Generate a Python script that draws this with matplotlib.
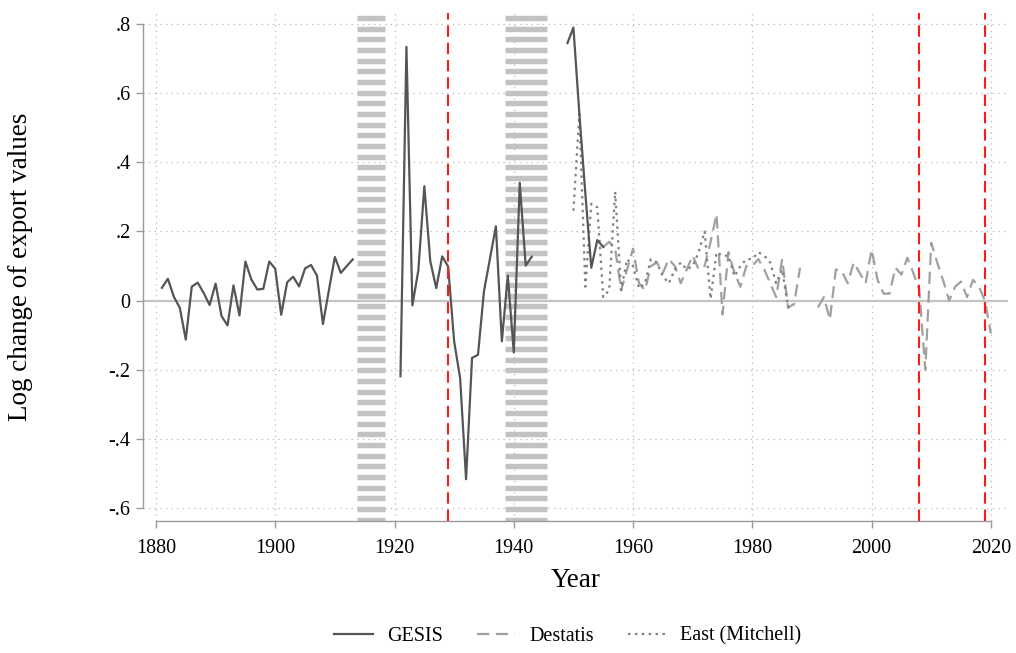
import numpy as np
import matplotlib
matplotlib.use("Agg")
import matplotlib.pyplot as plt

plt.rcParams["font.family"] = ["Liberation Serif", "DejaVu Serif"]

nan = np.nan

# GESIS series (annual log change), 1881-1955 with war gaps
gesis_start = 1881
gesis_values = [
    0.037, 0.063, 0.011, -0.021, -0.113, 0.040, 0.052, 0.022, -0.013, 0.049,   # 1881-1890
    -0.045, -0.072, 0.044, -0.043, 0.113, 0.061, 0.032, 0.034, 0.113, 0.092,   # 1891-1900
    -0.041, 0.053, 0.069, 0.041, 0.093, 0.103, 0.072, -0.068, 0.030, 0.126,    # 1901-1910
    0.080, 0.100, 0.119, nan, nan, nan, nan, nan, nan, nan,                    # 1911-1920
    -0.219, 0.734, -0.014, 0.088, 0.331, 0.114, 0.036, 0.128, 0.098, -0.118,   # 1921-1930
    -0.224, -0.517, -0.166, -0.157, 0.027, 0.121, 0.215, -0.118, 0.072, -0.150,  # 1931-1940
    0.341, 0.101, 0.127, nan, nan, nan, nan, nan, 0.745, 0.790,                # 1941-1950
    0.540, 0.310, 0.095, 0.175, 0.155,                                         # 1951-1955
]

# Destatis series, 1955-2020 (gap around reunification)
destatis_start = 1955
destatis_values = [
    0.155, 0.170, 0.150, 0.030, 0.090,                                         # 1955-1959
    0.150, 0.050, 0.030, 0.100, 0.110, 0.080, 0.120, 0.100, 0.050, 0.090,      # 1960-1969
    0.130, 0.090, 0.100, 0.170, 0.250, -0.040, 0.140, 0.080, 0.040, 0.100,     # 1970-1979
    0.100, 0.120, 0.090, 0.050, 0.010, 0.120, -0.020, -0.010, 0.095, nan,      # 1980-1989
    nan, -0.020, 0.010, -0.055, 0.090, 0.085, 0.050, 0.110, 0.080, 0.050,      # 1990-1999
    0.148, 0.060, 0.020, 0.020, 0.095, 0.075, 0.124, 0.080, 0.030, -0.200,     # 2000-2009
    0.167, 0.110, 0.058, 0.000, 0.040, 0.055, 0.010, 0.060, 0.040, 0.000,      # 2010-2019
    -0.095,                                                                    # 2020
]

# East Germany (Mitchell), 1950-1987
east_start = 1950
east_values = [
    0.260, 0.540, 0.040, 0.280, 0.270, 0.010, 0.030, 0.315, 0.030, 0.120,      # 1950-1959
    0.100, 0.035, 0.050, 0.120, 0.110, 0.070, 0.050, 0.090, 0.110, 0.090,      # 1960-1969
    0.100, 0.140, 0.200, 0.005, 0.140, 0.130, 0.130, 0.070, 0.100, 0.120,      # 1970-1979
    0.120, 0.140, 0.130, 0.110, 0.050, 0.090, -0.020, -0.015,                  # 1980-1987
]

war_periods = [(1913.75, 1918.4), (1938.6, 1945.6)]
crisis_years = [1929, 2008, 2019]

x_ticks = [1880, 1900, 1920, 1940, 1960, 1980, 2000, 2020]
y_ticks = [-0.6, -0.4, -0.2, 0.0, 0.2, 0.4, 0.6, 0.8]
y_tick_labels = ["-.6", "-.4", "-.2", "0", ".2", ".4", ".6", ".8"]


def series(start, values):
    vals = np.array(values, dtype=float)
    return np.arange(start, start + len(vals)), vals


fig = plt.figure(figsize=(10.16, 6.53), dpi=100)
ax = fig.add_axes([0.1407, 0.2021, 0.8513, 0.7779])

ax.set_xlim(1877.82, 2022.85)
ax.set_ylim(-0.638, 0.832)

# striped bands for the two world wars
stripe_y = np.arange(0.818, -0.65, -0.0309)
for x0, x1 in war_periods:
    ax.hlines(stripe_y, x0, x1, colors="#c2c2c2", linewidth=3.9, zorder=1)

# grid
for yv in y_ticks:
    ax.axhline(yv, color="#b8b8b8", linestyle=(0, (1, 3.5)), linewidth=0.9, zorder=0)
for xv in x_ticks:
    ax.axvline(xv, color="#b8b8b8", linestyle=(0, (1, 3.5)), linewidth=0.9, zorder=0)

ax.axhline(0, color="#c4c4c4", linewidth=1.6, zorder=2)

for yr in crisis_years:
    ax.axvline(yr, color="#ff1a1a", linestyle=(0, (5.5, 2.8)), linewidth=1.5, zorder=5)

gx, gy = series(gesis_start, gesis_values)
dx, dy = series(destatis_start, destatis_values)
ex, ey = series(east_start, east_values)

ax.plot(gx, gy, color="#555555", linewidth=1.6, label="GESIS", zorder=4)
ax.plot(dx, dy, color="#a0a0a0", linewidth=1.6, linestyle=(0, (5.5, 3)), label="Destatis", zorder=3)
ax.plot(ex, ey, color="#808080", linewidth=1.6, linestyle=(0, (1.1, 2.0)), label="East (Mitchell)", zorder=3)

for side in ("top", "right"):
    ax.spines[side].set_visible(False)
for side in ("left", "bottom"):
    ax.spines[side].set_color("#9a9a9a")
    ax.spines[side].set_linewidth(1.0)
ax.spines["left"].set_bounds(-0.6, 0.8)
ax.spines["bottom"].set_bounds(1880, 2020)

ax.set_xticks(x_ticks)
ax.set_xticklabels([str(x) for x in x_ticks])
ax.set_yticks(y_ticks)
ax.set_yticklabels(y_tick_labels)
ax.tick_params(axis="both", colors="#9a9a9a", labelcolor="black", length=5, width=1.0,
               labelsize=14.5)
ax.tick_params(axis="x", pad=8)
ax.tick_params(axis="y", pad=4)

ax.set_xlabel("Year", fontsize=19.5)
ax.set_ylabel("Log change of export values", fontsize=19.5)
ax.xaxis.set_label_coords(0.500, -0.093)
ax.yaxis.set_label_coords(-0.127, 0.5)

handles, labels = ax.get_legend_handles_labels()
fig.legend(handles, labels, loc="center", bbox_to_anchor=(568 / 1016, 1 - 636 / 653),
           ncol=3, frameon=False, fontsize=14.5, handlelength=1.9, columnspacing=1.7,
           handletextpad=0.7)

fig.savefig("out.png", dpi=100)
